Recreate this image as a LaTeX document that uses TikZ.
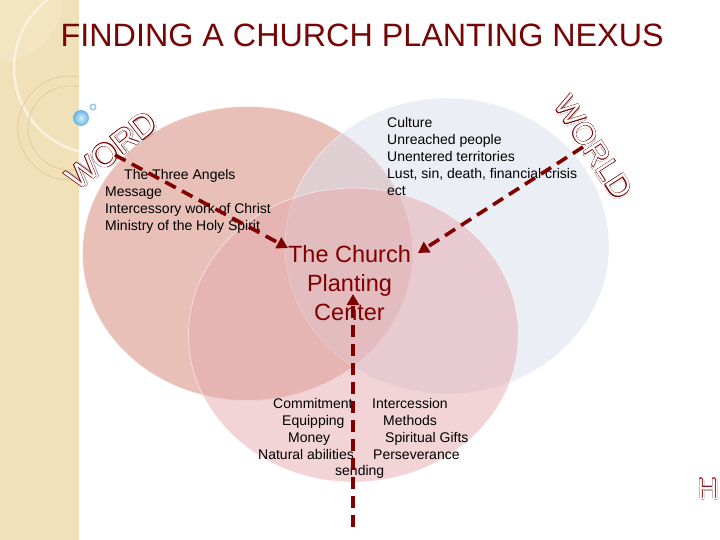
\documentclass[tikz,border=0pt]{standalone}
\usepackage{fontspec}
\setmainfont{Liberation Sans}
\usetikzlibrary{arrows.meta}
\definecolor{dred}{RGB}{128,0,0}
\definecolor{ttlred}{RGB}{118,6,6}
\definecolor{stripcol}{RGB}{241,225,184}
\definecolor{striplight}{RGB}{243,229,193}
\definecolor{tanring}{RGB}{226,204,160}
\definecolor{creamring}{RGB}{250,241,222}
\definecolor{leftc}{RGB}{210,130,115}
\definecolor{rightc}{RGB}{218,222,236}
\definecolor{bottomc}{RGB}{230,170,175}
\definecolor{shadowgray}{RGB}{170,170,170}
\definecolor{ballblue}{RGB}{100,180,225}
\newcommand\olcopy[4]{\rlap{\hspace*{#1}\raisebox{#2}{\textcolor{#3}{#4}}}}
\newcommand\olword[1]{%
 \olcopy{2.4pt}{-1.8pt}{shadowgray}{#1}\olcopy{1.6pt}{-1.8pt}{shadowgray}{#1}%
 \olcopy{2.0pt}{-1.4pt}{shadowgray}{#1}\olcopy{2.0pt}{-2.2pt}{shadowgray}{#1}%
 \olcopy{2.0pt}{-1.8pt}{white}{#1}%
 \olcopy{0.45pt}{0pt}{dred}{#1}\olcopy{-0.45pt}{0pt}{dred}{#1}%
 \olcopy{0pt}{0.45pt}{dred}{#1}\olcopy{0pt}{-0.45pt}{dred}{#1}%
 \olcopy{0.32pt}{0.32pt}{dred}{#1}\olcopy{-0.32pt}{0.32pt}{dred}{#1}%
 \olcopy{0.32pt}{-0.32pt}{dred}{#1}\olcopy{-0.32pt}{-0.32pt}{dred}{#1}%
 \textcolor{white}{#1}}
\tikzset{
  venn/.style={fill opacity=0.5},
  vennrim/.style={draw=white, draw opacity=0.5, line width=0.8pt},
  bodytxt/.style={inner sep=0pt, font=\fontsize{14}{17}\selectfont, text=black},
  wordtxt/.style={inner sep=0pt, font=\fontsize{14}{17}\selectfont, text=black, anchor=base west},
  centertxt/.style={inner sep=0pt, font=\fontsize{23.5}{29}\selectfont, text=dred, align=center},
  arclabel/.style={inner sep=0pt, font=\fontsize{33}{36}\selectfont},
  dasharrow/.style={draw=dred, line width=3.6pt, dash pattern=on 12pt off 7pt,
    -{Triangle[length=11pt,width=12pt]}},
}
\begin{document}
\begin{tikzpicture}[x=1pt,y=-1pt]
\useasboundingbox (0,0) rectangle (720,540);
\fill[white] (0,0) rectangle (720,540);
% decorative strip
\fill[stripcol] (0,0) rectangle (79,540);
\begin{scope}
  \clip (0,0) rectangle (79,540);
  \fill[striplight] (0,0) circle[radius=62pt];
  \draw[creamring, line width=2.5pt] (100,68) circle[radius=86pt];
  \draw[tanring, line width=0.8pt] (70,128) circle[radius=52pt];
  \draw[tanring, line width=0.8pt] (70,128) circle[radius=42pt];
\end{scope}
\shade[inner color=ballblue!25, outer color=ballblue] (81,118) circle[radius=8pt];
\draw[ballblue!70, fill=white, line width=1.4pt] (93,107) circle[radius=2.8pt];
% venn circles
\fill[venn, fill=leftc] (247.5,253.5) ellipse[x radius=165pt, y radius=147pt];
\draw[vennrim] (247.5,253.5) ellipse[x radius=165pt, y radius=147pt];
\fill[venn, fill=rightc] (447,246) ellipse[x radius=162pt, y radius=148pt];
\draw[vennrim] (447,246) ellipse[x radius=162pt, y radius=148pt];
\fill[venn, fill=bottomc] (353.5,335) ellipse[x radius=165pt, y radius=147pt];
\draw[vennrim] (353.5,335) ellipse[x radius=165pt, y radius=147pt];
% title
\node[inner sep=0pt, anchor=base west, text=ttlred, font=\fontsize{32.3}{38}\selectfont] (title) at (60.5,47) {FINDING A CHURCH PLANTING NEXUS};
% arc labels
\node[arclabel, rotate=38] (word) at (112,151) {\olword{WORD}};
\node[arclabel, font=\fontsize{31}{34}\selectfont, rotate=-57] (world) at (593,148) {\olword{WORLD}};
\node[arclabel, font=\fontsize{28}{30}\selectfont, anchor=base west] (hcut) at (697,498) {\olword{H}};
% text blocks (anchor at baseline of last line)
\node[bodytxt, align=left, anchor=base west] (lefttxt) at (105,230) {\hspace*{19pt}The Three Angels\\Message\\Intercessory work of Christ\\Ministry of the Holy Spirit};
\node[bodytxt, align=left, anchor=base west] (righttxt) at (387,196) {Culture\\Unreached people\\Unentered territories\\Lust, sin, death, financial crisis\\ect};
\node[centertxt, anchor=base] (center) at (349.5,320) {The Church\\Planting\\Center};
% bottom words
\node[wordtxt] (commit) at (273,408) {Commitment};
\node[wordtxt] (interc) at (372,408) {Intercession};
\node[wordtxt] (equip) at (282,425) {Equipping};
\node[wordtxt] (meth) at (383,425) {Methods};
\node[wordtxt] (money) at (288,442) {Money};
\node[wordtxt] (gifts) at (385,442) {Spiritual Gifts};
\node[wordtxt] (natural) at (258,459) {Natural abilities};
\node[wordtxt] (perse) at (373,459) {Perseverance};
\node[wordtxt] (send) at (335,475) {sending};
% arrows
\coordinate (a1s) at (115,155);
\coordinate (a1e) at (288,248);
\coordinate (a2s) at (583,147);
\coordinate (a2e) at (418,253);
\coordinate (a3s) at (353,527);
\coordinate (a3e) at (353,294);
\draw[dasharrow] (a1s) -- (a1e);
\draw[dasharrow] (a2s) -- (a2e);
\draw[dasharrow] (a3s) -- (a3e);
\end{tikzpicture}
\end{document}
